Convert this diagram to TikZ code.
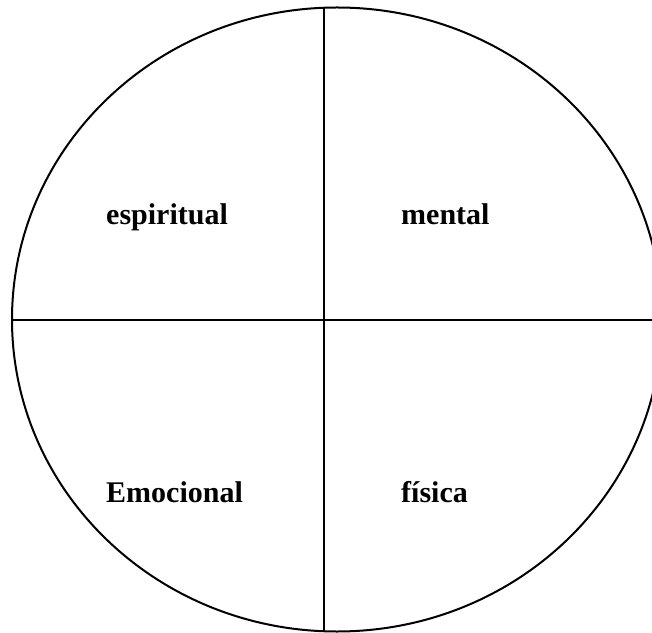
\documentclass[tikz,border=0pt]{standalone}
\usepackage{fontspec}
\setmainfont{Liberation Serif}
\usepackage{tikz}
\usetikzlibrary{positioning}

\begin{document}
\begin{tikzpicture}[
    x=1pt, y=1pt,
    outline/.style={
        draw,
        line width=2pt
    },
    divider/.style={line width=2pt},
    label/.style={
        font=\fontsize{30}{36}\selectfont\bfseries,
        anchor=base west,
        inner sep=0pt
    }
]

\useasboundingbox (0,0) rectangle (652,632);

\begin{scope}
    \clip (0,0) rectangle (652,632);
    \draw[outline] (337,312.5) ellipse [x radius=325, y radius=312];
\end{scope}

\coordinate (top) at (323.5,624);
\coordinate (bottom) at (323.5,1);
\coordinate (left) at (12,312);
\coordinate (right) at (652,312);

\draw[divider] (top) -- (bottom);
\draw[divider] (left) -- (right);

\node[label] (espiritual) at (106,407.5) {espiritual};
\node[label] (mental) at (401,407.5) {mental};
\node[label] (emocional) at (106,130) {Emocional};
\node[label] (fisica) at (401,130) {física};

\end{tikzpicture}
\end{document}
